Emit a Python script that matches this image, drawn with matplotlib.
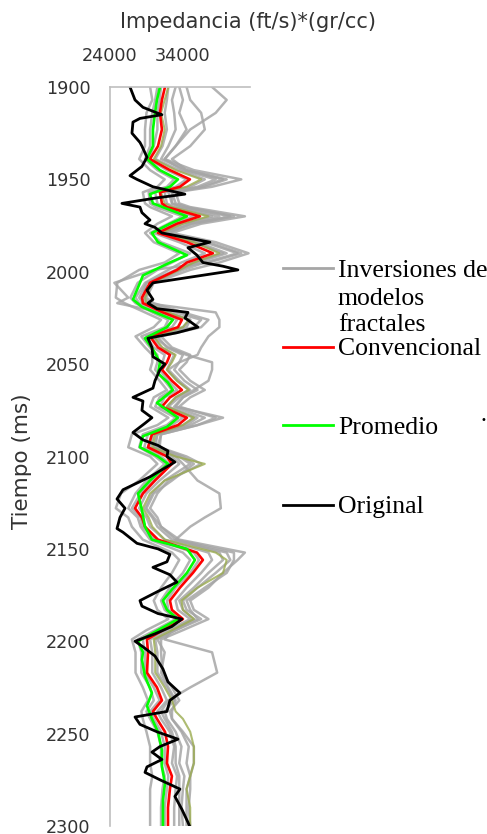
import matplotlib
matplotlib.use('Agg')
import matplotlib.pyplot as plt
from matplotlib.lines import Line2D

# ---------------- data ----------------
x_ticks = [24000, 34000]
y_ticks = [1900, 1950, 2000, 2050, 2100, 2150, 2200, 2250, 2300]

black_depth = [1900,1907,1911,1914,1915,1917,1919,1925,1930,1932,1938,1943,1948,1950,1954,1958,1960,1963,1965,1968,
               1972,1974,1976,1979,1984,1987,1991,1995,1997,1999,2006,2010,2015,2017,2020,2022,2025,2030,2033,2036,
               2041,2046,2050,2053,2059,2063,2068,2070,2075,2079,2082,2087,2091,2094,2097,2100,2103,2111,2118,2123,
               2128,2133,2139,2141,2147,2150,2153,2157,2160,2164,2168,2173,2178,2181,2185,2188,2192,2196,2200,2203,
               2208,2215,2222,2228,2232,2238,2241,2245,2249,2253,2257,2260,2264,2268,2271,2275,2280,2284,2291,2298,2300]
original = [26740,27430,28520,30440,31120,28110,27150,27010,28110,28380,29070,28380,26740,27700,29890,34270,30440,25640,28110,28380,
            29480,28800,30170,31120,37700,34690,35920,36740,39480,41540,29890,29070,29890,29210,30440,34690,34280,36060,33180,29210,
            29750,29890,31540,30850,30170,29890,27150,28520,28380,29750,28800,27150,28520,30580,31950,31810,32900,29480,25780,24960,
            26060,25370,24960,25780,27700,30580,32220,31810,29890,32220,33180,30580,28110,28380,30580,33860,32490,30170,27430,28520,
            30170,31260,31950,33590,32220,31810,27430,28110,30440,33320,30850,29750,31120,29070,28800,30850,33590,32900,33860,34690,34900]

green_depth = [1900,1907,1914,1923,1932,1939,1945,1950,1954,1958,1963,1970,1974,1979,1984,1991,1995,2002,2006,2015,
               2019,2026,2030,2036,2042,2049,2055,2060,2064,2071,2079,2084,2089,2095,2100,2104,2113,2120,2129,2138,
               2145,2150,2156,2163,2172,2178,2183,2188,2194,2200,2206,2210,2219,2228,2235,2242,2249,2259,2268,2277,2286,2300]
promedio = [30850,30440,30170,29890,29890,29070,30850,33320,32220,29480,29890,34550,32220,29750,30580,34550,32220,28520,28110,27150,
            28380,32630,31810,28800,29890,30850,30580,31950,32630,30440,33320,31810,28520,28110,30580,31950,29480,27840,28380,28800,
            29750,34550,35650,34550,32490,31260,31810,33320,30580,27840,28520,28380,28800,29750,29070,29750,30580,31120,31120,31540,31260,31260]

conv_depth = [1900,1907,1914,1923,1932,1939,1945,1950,1954,1957,1963,1965,1970,1974,1979,1984,1990,1995,1999,2006,
              2014,2017,2022,2026,2030,2035,2041,2045,2049,2053,2059,2064,2068,2073,2079,2083,2088,2095,2100,2104,
              2113,2120,2128,2133,2138,2145,2152,2156,2163,2171,2178,2183,2188,2194,2199,2206,2217,2225,2232,2238,
              2242,2249,2257,2266,2273,2280,2290,2300]
convencional = [31540,31120,30850,31120,30580,29480,32220,34960,33590,30850,31120,31810,36330,33180,30580,34550,38110,34550,33180,29480,
                28380,28520,31260,33860,33320,29480,30580,32220,31810,31120,32490,33860,32220,31120,34550,33320,29750,29210,31810,32490,
                30170,28520,27430,28380,28800,30580,35920,36740,35370,33590,32220,32490,34000,31260,29070,29210,29070,30440,31120,29890,
                30440,31540,31950,31810,32490,32220,31950,31950]

# fractal-model inversions (sampled at the same depths as conv_depth)
fractal_1 = [32000,31800,31500,31800,31200,30200,33500,37000,35000,31500,31800,32800,38000,34000,31200,35500,39500,35500,33000,29000,
             28000,28500,32000,35000,34000,29800,31000,32800,32300,31800,33200,34800,33000,31800,35500,34000,30000,29500,32500,33500,
             30800,29000,28000,29000,29500,31500,37500,38000,36500,34500,33000,33300,35000,32000,29500,29800,29800,31000,31800,30500,
             31000,32200,32800,32500,33200,33000,32800,32800]
fractal_2 = [33000,32500,32800,33000,32000,31000,34500,39500,36500,32500,32500,34000,40500,35000,32000,37000,41500,37000,34000,29500,
             28800,29500,33000,36500,35500,30500,31800,34000,33500,32800,34200,36000,34000,32800,37000,35000,30500,30200,33500,35000,
             31500,29800,28800,29800,30500,32500,40000,40500,38500,36000,34000,34500,36500,33000,30200,30500,30500,31800,32800,31500,
             31800,33000,33800,33500,34200,34000,33800,34000]
fractal_3 = [33500,34000,33500,34500,33000,31500,35500,42000,38000,33000,33500,35000,42500,36500,32500,38500,43000,39000,35000,30000,
             29000,30000,34000,37500,36500,31000,32500,35000,34500,33500,35000,37000,35000,33500,38500,36000,31000,30800,34500,36500,
             32000,30500,29500,30500,31000,33500,42500,41500,39500,37500,35000,35500,37500,34000,31000,31000,31200,32500,33500,32200,
             32500,33800,34800,34500,35000,35000,34800,35000]
fractal_4 = [30500,30200,29800,29500,29500,28800,30500,32800,31800,29300,29500,30300,34000,32000,29500,31000,35000,32500,30500,27800,
             26800,27500,29800,32000,31500,28300,29500,30500,30500,30200,31500,32500,30800,30200,33000,31800,28500,28000,30200,31500,
             29000,27500,26500,27800,28200,29500,34000,35000,34000,32200,31000,31500,33000,30200,27800,28300,28300,29500,30000,29000,
             29500,30500,31000,31000,31500,31200,31000,31000]
fractal_5 = [29500,29800,29000,28800,28800,28000,29500,31500,30500,28500,28800,29500,32500,30500,28800,30000,33500,31500,28000,25000,
             24800,26000,28800,31000,30000,27500,28800,29800,29800,29500,30800,31800,30000,29500,32000,30500,27000,26500,29500,30500,
             28000,25500,24800,26500,27000,28500,32500,33500,32500,31000,30000,30500,32000,29000,27000,27500,27500,28500,29200,28300,
             28500,29000,29500,29500,29800,29500,29500,29500]
fractal_6 = [38000,40000,38500,35000,33000,31500,34000,38500,36000,32000,32500,33500,39000,35000,31500,36000,40000,36000,33500,29000,
             28500,29000,38500,39000,39000,37500,36500,36000,33500,32000,33500,35000,33500,32000,36000,34500,30500,30000,33000,34000,
             36000,39000,39200,37000,35000,33000,39000,39500,37500,35500,33500,34000,35500,32500,31500,38000,38700,35000,32000,31000,
             31500,32500,33000,33000,33500,33500,33500,33500]
fractal_7 = [34500,35000,36500,37000,35000,32500,34500,40000,37000,32500,33000,34500,41000,35500,31500,37500,42000,37500,30000,24600,
             26500,25000,31000,35000,34500,30000,32000,34500,38000,38000,37500,35500,34000,33000,39500,36000,31000,30500,34000,35500,
             32500,30000,29000,30000,31000,33000,41000,41000,40000,37000,34500,35000,36000,33000,30500,31500,31000,32000,33000,32500,
             32500,34000,35500,35500,35000,34500,34500,34500]
fractal_8 = [32000,31500,31000,31500,31000,30000,33000,36500,34500,31000,31500,32500,37500,34000,31000,35500,39000,35500,33500,29800,
             28800,29000,32000,34800,34000,30000,31200,33000,32500,31800,33200,34800,33000,31800,35500,34000,30200,29800,33000,37000,
             31500,29500,28500,29300,29800,31500,38500,40000,39500,36000,33800,34000,35500,32500,30000,30200,30200,31500,32500,33000,
             34000,35000,35500,35500,35000,34500,35000,35000]
fractal_9 = [31000,30800,30500,30500,30000,29300,31800,34500,33000,30200,30500,31300,35500,32800,30000,33500,37000,33800,32000,28800,
             27500,28000,30800,33200,32500,29000,30000,31500,31200,30800,32000,33200,31500,30800,34000,32500,29200,28700,31000,32200,
             29800,28200,27000,28200,28500,30200,35500,36200,35000,33000,31800,32000,33500,30800,28500,28800,28800,30000,30800,29500,
             30000,31000,31500,31500,32000,31800,31500,31500]

gray_series = [fractal_1, fractal_2, fractal_3, fractal_4, fractal_5, fractal_6, fractal_7, fractal_9]
olive_series = [fractal_8]

legend_labels = ["Inversiones de\nmodelos\nfractales", "Convencional", "Promedio", "Original"]

# ---------------- figure ----------------
W, H = 487, 834
fig = plt.figure(figsize=(W / 100, H / 100), dpi=100)
ax = fig.add_axes([110 / W, 1 - 826 / H, 140 / W, (826 - 87) / H])

GRAY = '#a6a6a6'
for s in gray_series:
    ax.plot(s, conv_depth, color=GRAY, lw=1.8, alpha=0.85)
for s in olive_series:
    ax.plot(s, conv_depth, color='#9aab4f', lw=1.5, alpha=0.8)
ax.plot(convencional, conv_depth, color='#ff0000', lw=1.9)
ax.plot(promedio, green_depth, color='#00ff00', lw=1.9)
ax.plot(original, black_depth, color='#000000', lw=2.0)

ax.set_xlim(24000, 43200)
ax.set_ylim(2300, 1900)
ax.xaxis.tick_top()
ax.set_xticks(x_ticks)
ax.set_yticks(y_ticks)
tick_font = dict(family='DejaVu Sans', size=12.7)
ax.set_xticklabels([str(v) for v in x_ticks], fontdict=tick_font, color='#333333')
ax.set_yticklabels([str(v) for v in y_ticks], fontdict=tick_font, color='#333333')
ax.tick_params(axis='x', length=0, pad=16)
ax.tick_params(axis='y', length=0, pad=14)
for sp in ['right', 'bottom']:
    ax.spines[sp].set_visible(False)
for sp in ['top', 'left']:
    ax.spines[sp].set_color('#bfbfbf')
    ax.spines[sp].set_linewidth(1.2)
ax.patch.set_alpha(0)

fig.text(248 / W, 1 - 22 / H, "Impedancia (ft/s)*(gr/cc)", ha='center', va='center',
         family='DejaVu Sans', size=15, color='#333333')
fig.text(22 / W, 1 - 461 / H, "Tiempo (ms)", ha='center', va='center', rotation=90,
         family='DejaVu Sans', size=15.5, color='#333333')

# ---------------- legend ----------------
leg_colors = [GRAY, '#ff0000', '#00ff00', '#000000']
leg_line_y = [268, 347, 425, 505]
leg_base_y = [[277, 305, 331], [355], [434], [513]]
for lab, col, ly, bys in zip(legend_labels, leg_colors, leg_line_y, leg_base_y):
    fig.add_artist(Line2D([283 / W, 333 / W], [1 - ly / H, 1 - ly / H], transform=fig.transFigure,
                          color=col, lw=2.0))
    for part, by in zip(lab.split("\n"), bys):
        fig.text(338 / W, 1 - by / H, part, ha='left', va='baseline',
                 family='Liberation Serif', size=18.5, color='#000000')
fig.text(483 / W, 1 - 420 / H, "\u2022", ha='center', va='center', size=7, color='#000000')

fig.savefig('out.png', dpi=100)
